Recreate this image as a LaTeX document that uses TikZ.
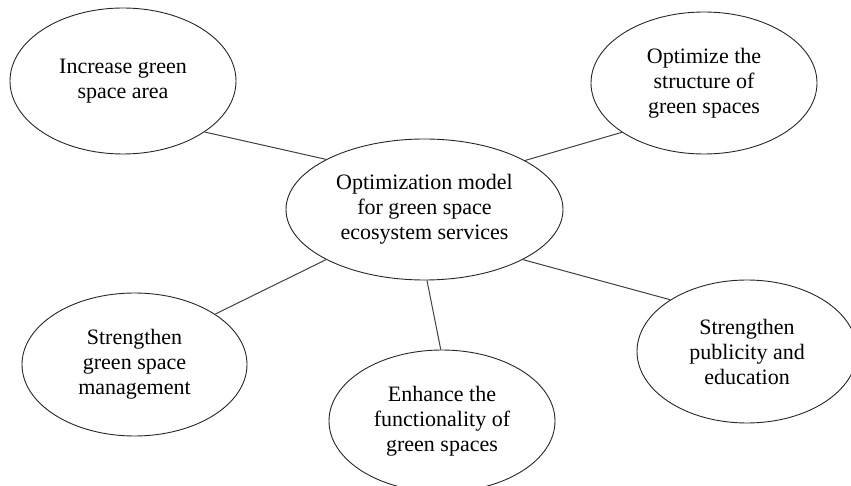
\documentclass[tikz,border=0pt]{standalone}
\usepackage{fontspec}
\setmainfont{Liberation Serif}
\usetikzlibrary{shapes.geometric}
\begin{document}
\begin{tikzpicture}[x=1pt,y=-1pt,
  bubble/.style={ellipse,draw=black!85,line width=0.9pt,inner sep=0pt,align=center,
    font=\fontsize{22}{25}\selectfont,minimum width=226pt,minimum height=144pt},
  link/.style={draw=black!75,line width=1pt}]
\useasboundingbox (0,0) rectangle (851,486);
\node[bubble,minimum width=277pt,minimum height=141pt] (c) at (424.5,209.5) {Optimization model\\for green space\\ecosystem services};
\node[bubble,minimum height=146pt] (tl) at (123,81) {Increase green\\space area};
\node[bubble,minimum height=142pt] (tr) at (704,83) {Optimize the\\structure of\\green spaces};
\node[bubble,minimum width=225pt,minimum height=143pt] (bl) at (134.5,364.5) {Strengthen\\green space\\management};
\node[bubble,minimum height=142pt] (bc) at (442,421) {Enhance the\\functionality of\\green spaces};
\node[bubble,minimum width=220pt,minimum height=143pt] (br) at (747,351.5) {Strengthen\\publicity and\\education};
\draw[link] (tl.-32.4) -- (c.153.1);
\draw[link] (c.26.7) -- (tr.211.4);
\draw[link] (c.207.4) -- (bl.32.1);
\draw[link] (c.272) -- (bc.91);
\draw[link] (c.333.3) -- (br.146.2);
\end{tikzpicture}
\end{document}
